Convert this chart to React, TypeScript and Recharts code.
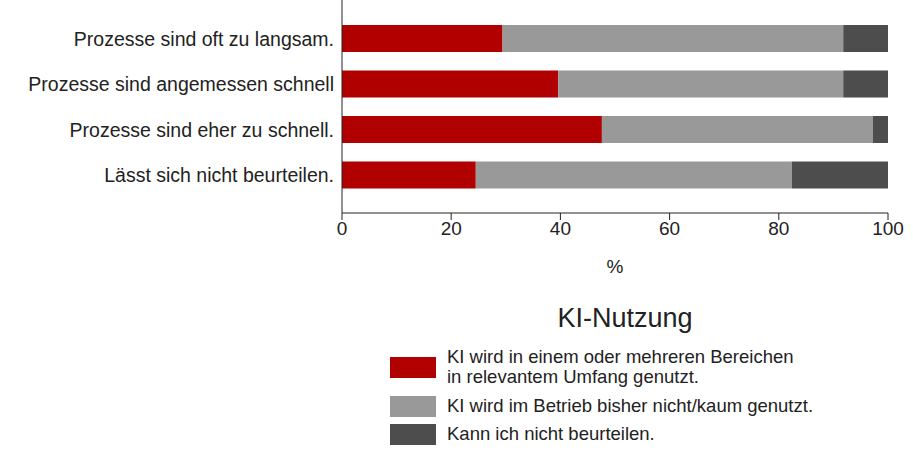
import React from "react";
import { BarChart, Bar, XAxis, YAxis } from "recharts";

const categories = [
  "Prozesse sind oft zu langsam.",
  "Prozesse sind angemessen schnell",
  "Prozesse sind eher zu schnell.",
  "Lässt sich nicht beurteilen.",
];
const genutzt = [29.4, 39.6, 47.6, 24.5];
const nichtGenutzt = [62.4, 52.2, 49.6, 57.9];
const kannNicht = [8.2, 8.2, 2.8, 17.6];
const xTicks = [0, 20, 40, 60, 80, 100];

const seriesNames = [
  "KI wird in einem oder mehreren Bereichen\nin relevantem Umfang genutzt.",
  "KI wird im Betrieb bisher nicht/kaum genutzt.",
  "Kann ich nicht beurteilen.",
];
const colors = ["#b00000", "#999999", "#4d4d4d"];

const data = categories.map((c, i) => ({
  name: c,
  a: genutzt[i],
  b: nichtGenutzt[i],
  c: kannNicht[i],
}));

const font = "'Liberation Sans', Arial, sans-serif";

export default function App() {
  return (
    <div style={{ position: "absolute", left: 0, top: 0, width: 913, height: 470, background: "#fff", fontFamily: font }}>
      <BarChart
        width={913}
        height={470}
        data={data}
        layout="vertical"
        margin={{ top: 0, right: 25, left: 0, bottom: 217 }}
        barSize={27}
      >
        <XAxis
          type="number"
          domain={[0, 100]}
          ticks={xTicks}
          height={40}
          stroke="#222"
          tick={{ fill: "#222", fontSize: 19, fontFamily: font }}
          tickSize={7}
          label={{ value: "%", position: "insideBottom", offset: -20, fill: "#222", fontSize: 19, fontFamily: font }}
        />
        <YAxis
          type="category"
          dataKey="name"
          width={342}
          stroke="#222"
          tickLine={false}
          padding={{ top: 16, bottom: 15 }}
          tick={{ fill: "#222", fontSize: 19.5, fontFamily: font }}
        />
        <Bar dataKey="a" stackId="s" fill={colors[0]} isAnimationActive={false} />
        <Bar dataKey="b" stackId="s" fill={colors[1]} isAnimationActive={false} />
        <Bar dataKey="c" stackId="s" fill={colors[2]} isAnimationActive={false} />
      </BarChart>
      <div style={{ position: "absolute", left: 0, width: 1250, top: 303, textAlign: "center", fontSize: 27, color: "#222" }}>
        KI-Nutzung
      </div>
      {seriesNames.map((n, i) => {
        const tops = [347, 396, 424];
        return (
          <div key={i} style={{ position: "absolute", left: 390, top: tops[i], display: "flex", alignItems: "flex-start" }}>
            <div style={{ width: 46, height: 21, background: colors[i], marginTop: i === 0 ? 10 : 0 }} />
            <div style={{ marginLeft: 11, fontSize: 18.5, lineHeight: "20px", color: "#222", whiteSpace: "pre" }}>{n}</div>
          </div>
        );
      })}
    </div>
  );
}
